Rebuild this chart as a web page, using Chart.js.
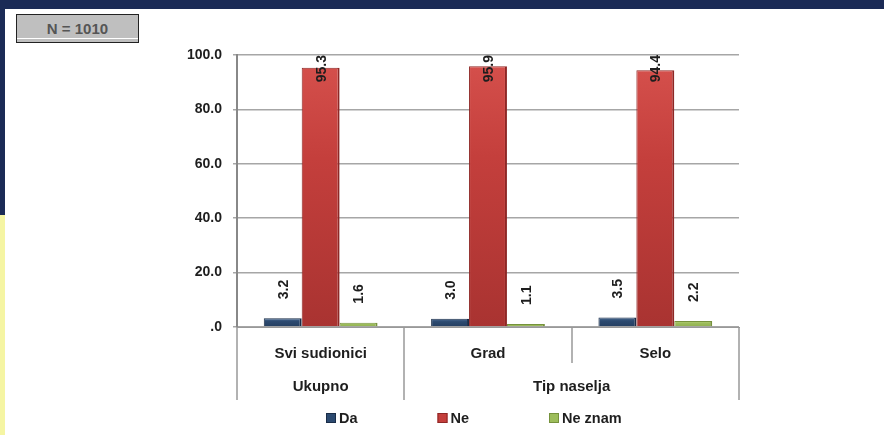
<!DOCTYPE html>
<html>
<head>
<meta charset="utf-8">
<script src="https://cdn.jsdelivr.net/npm/chart.js@4.4.0/dist/chart.umd.min.js"></script>
<style>
  body { margin: 0; width: 884px; height: 435px; overflow: hidden; background: #ffffff; position: relative; font-family: "Liberation Sans", Arial, sans-serif; }
  #topbar { position: absolute; left: 0; top: 0; width: 884px; height: 9px; background: #1b2b56; }
  #sidebar { position: absolute; left: 0; top: 0; width: 5px; height: 215px; background: #1b2b56; }
  #sideyellow { position: absolute; left: 0; top: 215px; width: 5px; height: 220px; background: #f5f5a3; }
  #nbox { position: absolute; left: 16px; top: 14px; width: 121px; height: 27px; background: #bfbfbf; border: 1px solid #222;
          color: #555; font-weight: bold; font-size: 15px; text-align: center; line-height: 27px; }
  #nbox:after { content: ""; position: absolute; left: 0; right: 0; top: 23px; height: 1px; background: #fff; }
  canvas { position: absolute; left: 0; top: 0; }
</style>
</head>
<body>
<div id="topbar"></div>
<div id="sidebar"></div>
<div id="sideyellow"></div>
<div id="nbox">N = 1010</div>
<canvas id="chart" width="884" height="435"></canvas>
<script>
const categories = ["Svi sudionici", "Grad", "Selo"];
const groupLabels = ["Ukupno", "Tip naselja"];
const groupSpans = [1, 2];
const seriesNames = ["Da", "Ne", "Ne znam"];
const da = [3.2, 3.0, 3.5];
const ne = [95.3, 95.9, 94.4];
const neZnam = [1.6, 1.1, 2.2];
const yTicks = [0, 20, 40, 60, 80, 100];

const fillColors = ["#2c4a70", "#c43f3c", "#9dbd5b"];
const lightColors = ["#4d6d94", "#d44f4b", "#bcd585"];
const darkColors = ["#243e60", "#a93331", "#8fae50"];
const edgeColors = ["#1a2d48", "#8e2725", "#76923c"];
const textColor = "#1e1e1e";
const FONT = "'Liberation Sans', Arial, sans-serif";
const CAT_PCT = 0.68;

function fmt(v) {
  const s = v.toFixed(1);
  return s.startsWith("0") ? s.slice(1) : s;
}

// vertical shading for each bar, from its top down to the axis
function barFill(context) {
  const chart = context.chart;
  const i = context.datasetIndex;
  const y = chart.scales.y;
  if (!y || context.raw === undefined) return fillColors[i];
  const top = y.getPixelForValue(context.raw);
  const base = y.getPixelForValue(0);
  if (!isFinite(top) || !isFinite(base) || base - top < 1) return fillColors[i];
  const g = chart.ctx.createLinearGradient(0, top, 0, base);
  g.addColorStop(0, lightColors[i]);
  g.addColorStop(0.35, fillColors[i]);
  g.addColorStop(1, darkColors[i]);
  return g;
}

// rotated value labels above each bar
const valueLabels = {
  id: "valueLabels",
  afterDatasetsDraw(chart) {
    const ctx = chart.ctx;
    const top = chart.chartArea.top;
    ctx.save();
    ctx.font = "bold 14px " + FONT;
    ctx.fillStyle = textColor;
    ctx.textAlign = "left";
    ctx.textBaseline = "middle";
    chart.data.datasets.forEach((ds, di) => {
      chart.getDatasetMeta(di).data.forEach((bar, i) => {
        const txt = ds.data[i].toFixed(1);
        const w = ctx.measureText(txt).width;
        let y = bar.y - 19;
        if (y - w < top) y = top + w;
        ctx.save();
        ctx.translate(bar.x + 1, y);
        ctx.rotate(-Math.PI / 2);
        ctx.fillText(txt, 0, 0);
        ctx.restore();
      });
    });
    ctx.restore();
  }
};

// category separators, second label level and legend
const groupAxis = {
  id: "groupAxis",
  afterDraw(chart) {
    const ctx = chart.ctx;
    const x = chart.scales.x;
    const bottom = chart.chartArea.bottom;
    const step = (x.right - x.left) / categories.length;
    ctx.save();
    ctx.strokeStyle = "#999";
    ctx.lineWidth = 1.5;
    const groupEnds = [0];
    groupSpans.reduce((a, s) => { groupEnds.push(a + s); return a + s; }, 0);
    for (let i = 0; i <= categories.length; i++) {
      const px = Math.round(x.left + i * step);
      const long = groupEnds.includes(i);
      ctx.beginPath();
      ctx.moveTo(px, bottom);
      ctx.lineTo(px, long ? bottom + 73 : bottom + 36);
      ctx.stroke();
    }
    ctx.font = "bold 15px " + FONT;
    ctx.fillStyle = textColor;
    ctx.textAlign = "center";
    ctx.textBaseline = "middle";
    groupLabels.forEach((g, gi) => {
      const a = groupEnds[gi], b = groupEnds[gi + 1];
      const cx = x.left + (a + b) / 2 * step;
      ctx.fillText(g, cx, bottom + 60);
    });

    // legend
    ctx.font = "bold 14.5px " + FONT;
    ctx.textAlign = "left";
    const ly = 418;
    seriesNames.forEach((name, i) => {
      const bx = 326 + i * 111.5;
      ctx.fillStyle = fillColors[i];
      ctx.fillRect(bx, ly - 5, 10, 10);
      ctx.strokeStyle = edgeColors[i];
      ctx.lineWidth = 1;
      ctx.strokeRect(bx + 0.5, ly - 4.5, 9, 9);
      ctx.fillStyle = textColor;
      ctx.fillText(name, bx + 13, ly + 1);
    });
    ctx.restore();
  }
};

new Chart(document.getElementById("chart"), {
  type: "bar",
  data: {
    labels: categories,
    datasets: [da, ne, neZnam].map((d, i) => ({
      label: seriesNames[i],
      data: d,
      backgroundColor: barFill,
      borderColor: edgeColors[i],
      borderWidth: { left: 1, right: 2, top: 1, bottom: 0 },
      categoryPercentage: CAT_PCT,
      barPercentage: 1.0
    }))
  },
  options: {
    responsive: false,
    animation: false,
    layout: { padding: { left: 170, right: 145, top: 55, bottom: 33 } },
    plugins: {
      tooltip: { enabled: false },
      legend: { display: false }
    },
    scales: {
      x: {
        grid: { display: false },
        border: { display: true, color: "#999", width: 1 },
        ticks: {
          color: textColor,
          padding: 10,
          font: { family: FONT, size: 15, weight: "bold" }
        },
        afterFit(scale) { scale.height = 75; }
      },
      y: {
        min: 0,
        max: 100,
        afterBuildTicks(scale) { scale.ticks = yTicks.map(v => ({ value: v })); },
        grid: { color: "#a6a6a6", lineWidth: 1.5, tickLength: 4 },
        border: { color: "#888", width: 2 },
        ticks: {
          color: textColor,
          padding: 11,
          font: { family: FONT, size: 14, weight: "bold" },
          callback: v => fmt(v)
        },
        afterFit(scale) { scale.width = 67; }
      }
    }
  },
  plugins: [valueLabels, groupAxis]
});
</script>
</body>
</html>
